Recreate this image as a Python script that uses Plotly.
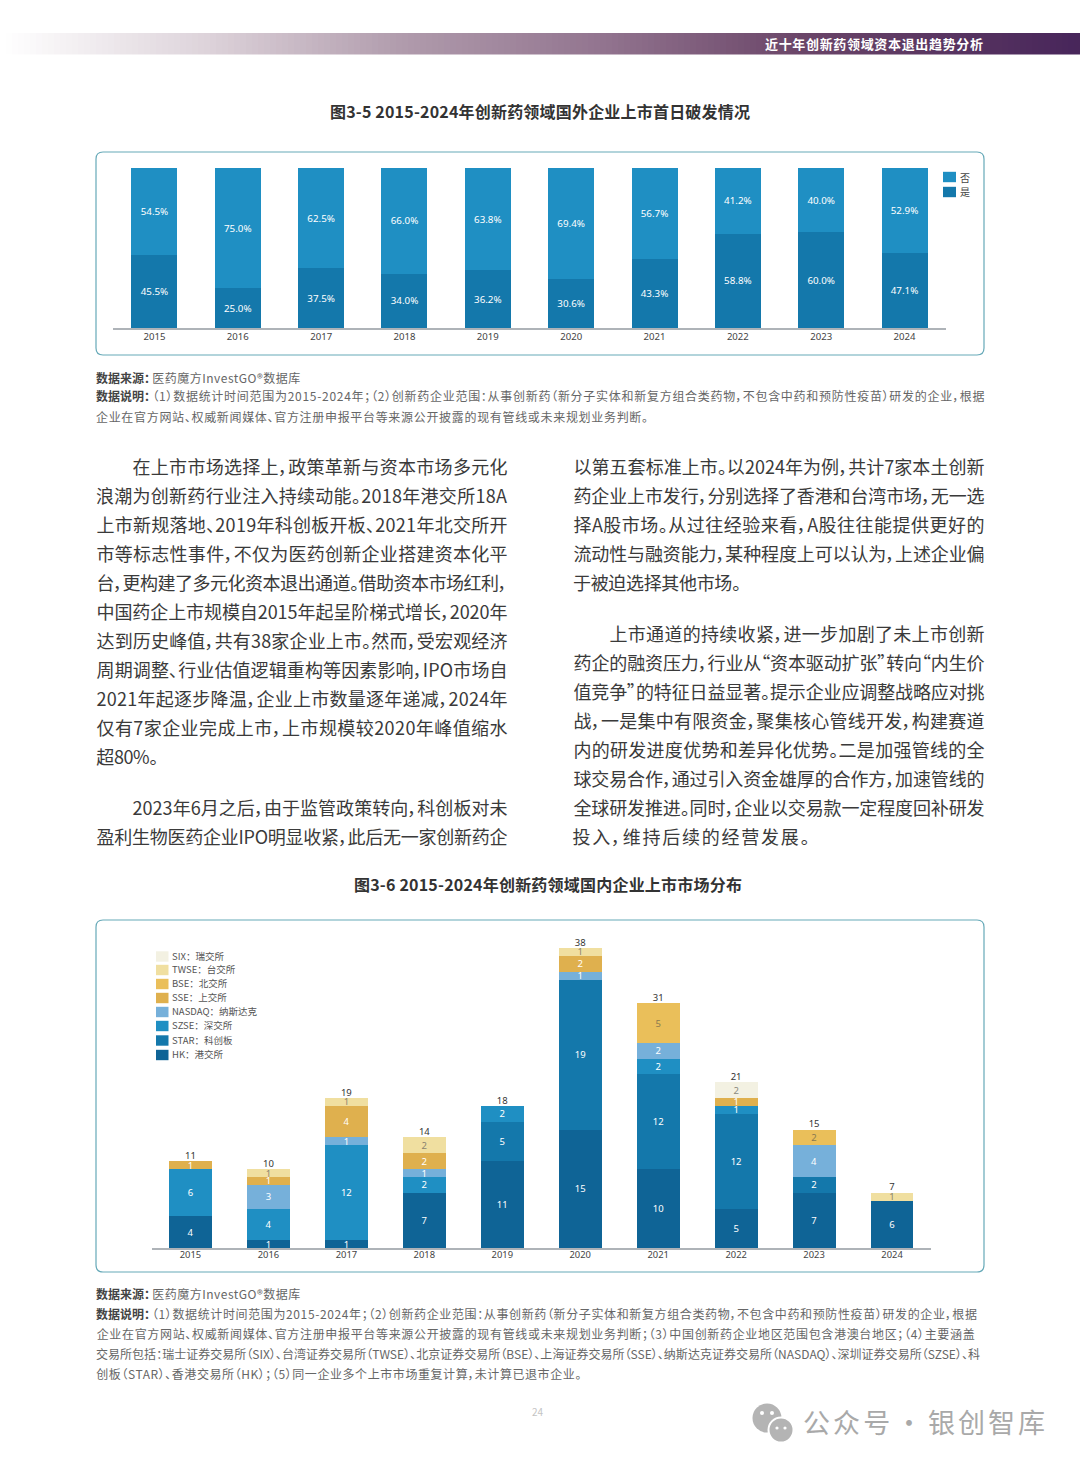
import json
import plotly.graph_objects as go

W, H = 1080, 1466
CJK = "Noto Sans CJK SC"
CHART_FONT = "Noto Sans, Noto Sans CJK SC"

# ---- chart 1 data
years = ["2015", "2016", "2017", "2018", "2019", "2020", "2021", "2022", "2023", "2024"]
share_yes = [45.5, 25.0, 37.5, 34.0, 36.2, 30.6, 43.3, 58.8, 60.0, 47.1]
share_no = [54.5, 75.0, 62.5, 66.0, 63.8, 69.4, 56.7, 41.2, 40.0, 52.9]

# ---- chart 2 data
hk = [4, 1, 1, 7, 11, 15, 10, 5, 7, 6]
star = [None, None, None, None, 5, 19, 12, 12, 2, None]
szse = [6, 4, 12, 2, 2, None, 2, 1, None, None]
nasdaq = [None, 3, 1, 1, None, 1, 2, None, 4, None]
sse = [1, 1, 4, 2, None, 2, None, 1, None, None]
bse = [None, None, None, None, None, None, 5, None, 2, None]
twse = [None, 1, 1, 2, None, 1, None, None, None, 1]
six = [None, None, None, None, None, None, None, 2, None, None]
totals = [11, 10, 19, 14, 18, 38, 31, 21, 15, 7]

market_series = [
    ("HK：港交所", hk, "#0f6496", "#ffffff"),
    ("STAR：科创板", star, "#1478ab", "#ffffff"),
    ("SZSE：深交所", szse, "#1f8fc3", "#ffffff"),
    ("NASDAQ：纳斯达克", nasdaq, "#76b0da", "#ffffff"),
    ("SSE：上交所", sse, "#dfb04e", "#ffffff"),
    ("BSE：北交所", bse, "#eabf5a", "#8a7a50"),
    ("TWSE：台交所", twse, "#f0dfa0", "#8a8470"),
    ("SIX：瑞交所", six, "#f3f1e2", "#8a8a80"),
]

header_text = "近十年创新药领域资本退出趋势分析"
title_1 = "图3-5 2015-2024年创新药领域国外企业上市首日破发情况"
title_2 = "图3-6 2015-2024年创新药领域国内企业上市市场分布"

# (text, left, right, centre y)
body_lines = [
    ("在上市市场选择上，政策革新与资本市场多元化", 132, 507, 467),
    ("浪潮为创新药行业注入持续动能。2018年港交所18A", 96, 507, 496),
    ("上市新规落地、2019年科创板开板、2021年北交所开", 96, 507, 525),
    ("市等标志性事件，不仅为医药创新企业搭建资本化平", 96, 507, 554),
    ("台，更构建了多元化资本退出通道。借助资本市场红利，", 96, 507, 583),
    ("中国药企上市规模自2015年起呈阶梯式增长，2020年", 96, 507, 612),
    ("达到历史峰值，共有38家企业上市。然而，受宏观经济", 96, 507, 641),
    ("周期调整、行业估值逻辑重构等因素影响，IPO市场自", 96, 507, 670),
    ("2021年起逐步降温，企业上市数量逐年递减，2024年", 96, 507, 699),
    ("仅有7家企业完成上市，上市规模较2020年峰值缩水", 96, 507, 728),
    ("超80%。", 96, 158, 757),
    ("2023年6月之后，由于监管政策转向，科创板对未", 132, 507, 808),
    ("盈利生物医药企业IPO明显收紧，此后无一家创新药企", 96, 507, 837),
    ("以第五套标准上市。以2024年为例，共计7家本土创新", 573, 984, 467),
    ("药企业上市发行，分别选择了香港和台湾市场，无一选", 573, 984, 496),
    ("择A股市场。从过往经验来看，A股往往能提供更好的", 573, 984, 525),
    ("流动性与融资能力，某种程度上可以认为，上述企业偏", 573, 984, 554),
    ("于被迫选择其他市场。", 573, 741, 583),
    ("上市通道的持续收紧，进一步加剧了未上市创新", 609, 984, 634),
    ("药企的融资压力，行业从“资本驱动扩张”转向“内生价", 573, 984, 663),
    ("值竞争”的特征日益显著。提示企业应调整战略应对挑", 573, 984, 692),
    ("战，一是集中有限资金，聚集核心管线开发，构建赛道", 573, 984, 721),
    ("内的研发进度优势和差异化优势。二是加强管线的全", 573, 984, 750),
    ("球交易合作，通过引入资金雄厚的合作方，加速管线的", 573, 984, 779),
    ("全球研发推进。同时，企业以交易款一定程度回补研发", 573, 984, 808),
    ("投入，维持后续的经营发展。", 573, 810, 837),
]

note_bold = [
    ("数据来源：", 96, 150, 378),
    ("数据说明：", 96, 150, 397),
    ("数据来源：", 96, 150, 1294),
    ("数据说明：", 96, 150, 1314),
]
note_lines = [
    ("医药魔方InvestGO®数据库", 152, 300, 378),
    ("（1）数据统计时间范围为2015-2024年；（2）创新药企业范围：从事创新药（新分子实体和新复方组合类药物，不包含中药和预防性疫苗）研发的企业，根据", 152, 984, 397),
    ("企业在官方网站、权威新闻媒体、官方注册申报平台等来源公开披露的现有管线或未来规划业务判断。", 96, 648, 417),
    ("医药魔方InvestGO®数据库", 152, 300, 1294),
    ("（1）数据统计时间范围为2015-2024年；（2）创新药企业范围：从事创新药（新分子实体和新复方组合类药物，不包含中药和预防性疫苗）研发的企业，根据", 152, 977, 1314),
    ("企业在官方网站、权威新闻媒体、官方注册申报平台等来源公开披露的现有管线或未来规划业务判断；（3）中国创新药企业地区范围包含港澳台地区；（4）主要涵盖", 96, 974, 1334),
    ("交易所包括：瑞士证券交易所（SIX）、台湾证券交易所（TWSE）、北京证券交易所（BSE）、上海证券交易所（SSE）、纳斯达克证券交易所（NASDAQ）、深圳证券交易所（SZSE）、科", 96, 980, 1354),
    ("创板（STAR）、香港交易所（HK）；（5）同一企业多个上市市场重复计算，未计算已退市企业。", 96, 581, 1374),
]


def px(x):
    return x / W


def py(y):
    return 1 - y / H


def rect(x0, y0, x1, y1, color):
    return dict(type="rect", xref="paper", yref="paper", x0=px(x0), x1=px(x1), y0=py(y1), y1=py(y0),
                fillcolor=color, line=dict(width=0), layer="below")


def circle(cx, cy, r, color, line=None):
    return dict(type="circle", xref="paper", yref="paper", x0=px(cx - r), x1=px(cx + r), y0=py(cy + r), y1=py(cy - r),
                fillcolor=color, line=dict(width=2, color=line) if line else dict(width=0), layer="above")


def panel(x0, y0, x1, y1, r=7):
    pts = (f"M{px(x0 + r)},{py(y0)} L{px(x1 - r)},{py(y0)} Q{px(x1)},{py(y0)} {px(x1)},{py(y0 + r)} "
           f"L{px(x1)},{py(y1 - r)} Q{px(x1)},{py(y1)} {px(x1 - r)},{py(y1)} "
           f"L{px(x0 + r)},{py(y1)} Q{px(x0)},{py(y1)} {px(x0)},{py(y1 - r)} "
           f"L{px(x0)},{py(y0 + r)} Q{px(x0)},{py(y0)} {px(x0 + r)},{py(y0)} Z")
    return dict(type="path", xref="paper", yref="paper", path=pts, fillcolor="#ffffff",
                line=dict(color="#66a9b8", width=1.2), layer="below")


fig = go.Figure()

# chart 1 bars
for name, vals, color in (("是", share_yes, "#1478ab"), ("否", share_no, "#1f8fc3")):
    fig.add_trace(go.Bar(x=years, y=vals, name=name, marker=dict(color=color, line=dict(width=0)),
                         text=[f"{v:.1f}%" for v in vals], textposition="inside", insidetextanchor="middle",
                         textangle=0, constraintext="none",
                         textfont=dict(family=CHART_FONT, size=9.8, color="#ffffff"),
                         xaxis="x", yaxis="y", showlegend=False))

# chart 2 bars
for name, vals, color, tcolor in market_series:
    fig.add_trace(go.Bar(x=years, y=vals, name=name, marker=dict(color=color, line=dict(width=0)),
                         text=[("" if v is None else str(v)) for v in vals], textposition="inside",
                         insidetextanchor="middle", textangle=0, constraintext="none",
                         textfont=dict(family=CHART_FONT, size=9.5, color=tcolor),
                         xaxis="x2", yaxis="y2", showlegend=False))
fig.add_trace(go.Scatter(x=years, y=totals, mode="text", text=[str(t) for t in totals], textposition="top center",
                         textfont=dict(family=CHART_FONT, size=9.5, color="#333333"), cliponaxis=False,
                         xaxis="x2", yaxis="y2", showlegend=False, name="合计"))

shapes = []
annotations = []
fits = {}


def add_text(text, x, y, size, color, bold=False, anchor="left", fit=None, family=CJK):
    annotations.append(dict(text=text, xref="paper", yref="paper", x=px(x), y=py(y - 1), xanchor=anchor, yanchor="middle",
                            showarrow=False, borderpad=0, borderwidth=0,
                            font=dict(family=family, size=size, color=color, weight=700 if bold else 400)))
    if fit is not None:
        fits[len(annotations) - 1] = fit


def add_fit(line, size, color, bold=False):
    text, left, right, y = line
    add_text(text, (left + right) / 2, y, size, color, bold, anchor="center", fit=right - left)


# header gradient
stops = [(0, (255, 255, 255)), (200, (222, 212, 219)), (400, (176, 155, 172)), (600, (146, 116, 143)),
         (800, (106, 69, 104)), (1080, (71, 37, 90))]
for x in range(0, W, 6):
    for (a, ca), (b, cb) in zip(stops, stops[1:]):
        if a <= x < b:
            t = (x - a) / (b - a)
            c = tuple(round(p + (q - p) * t) for p, q in zip(ca, cb))
            shapes.append(rect(x, 33, x + 6, 54.5, "rgb(%d,%d,%d)" % c))
            break
add_fit((header_text, 765, 983, 44), 13, "#ffffff", True)

# titles
add_fit((title_1, 330, 750, 112), 16, "#333333", True)
add_fit((title_2, 354, 742, 885), 16, "#333333", True)

# panels
shapes.append(panel(96, 152, 984, 355))
shapes.append(panel(96, 920, 984, 1272))

# legends
for name, y, color in (("否", 177, "#1f8fc3"), ("是", 192, "#1478ab")):
    shapes.append(rect(943, y - 5.2, 956, y + 5.2, color))
    add_text(name, 960, y + 1, 10, "#444444")
legend_ys = [1055, 1040.5, 1026, 1012, 998, 984, 970, 956.5]
for (name, _, color, _), y in zip(market_series, legend_ys):
    shapes.append(rect(156, y - 5.2, 168.5, y + 5.2, color))
    add_text(name, 172, y, 9.5, "#555555")

# body and notes
for line in body_lines:
    add_fit(line, 18, "#3a3a3a")
for line in note_bold:
    add_fit(line, 12, "#444444", True)
for line in note_lines:
    add_fit(line, 12, "#666666")

# footer
add_text("24", 538, 1412, 10, "#c4c4c4", anchor="center")
add_fit(("公众号 · 银创智库", 803, 1045, 1422), 27, "#a9a9a9")
shapes += [
    circle(767, 1418, 14.5, "#b4b4b4"),
    circle(781, 1430, 12.5, "#b4b4b4", "#ffffff"),
    circle(762, 1413, 2, "#ffffff"), circle(772, 1413, 2, "#ffffff"),
    circle(777, 1428, 1.6, "#ffffff"), circle(785, 1428, 1.6, "#ffffff"),
]

axis_line = "#aeb3b8"
fig.update_layout(
    width=W, height=H, autosize=False, margin=dict(l=0, r=0, t=0, b=0, pad=0),
    paper_bgcolor="#ffffff", plot_bgcolor="rgba(0,0,0,0)", showlegend=False,
    barmode="stack", bargap=0.448, shapes=shapes, annotations=annotations,
    font=dict(family=CHART_FONT),
    xaxis=dict(domain=[px(112.8), px(946.2)], anchor="y", type="category", showgrid=False, ticks="", ticklen=0,
               showline=True, linecolor=axis_line, linewidth=1.5, fixedrange=True, ticklabelstandoff=-1,
               tickfont=dict(family=CHART_FONT, size=9.6, color="#444444")),
    yaxis=dict(domain=[py(328), py(168)], anchor="x", range=[0, 100], visible=False, fixedrange=True),
    xaxis2=dict(domain=[px(151.5), px(931)], anchor="y2", type="category", showgrid=False, ticks="", ticklen=0,
                showline=True, linecolor=axis_line, linewidth=1.5, fixedrange=True, ticklabelstandoff=-3,
                tickfont=dict(family=CHART_FONT, size=9.4, color="#444444")),
    yaxis2=dict(domain=[py(1248), py(948)], anchor="x2", range=[0, 38], visible=False, fixedrange=True),
)
for tr in fig.data[2:10]:
    tr.width = 0.55

post = """
document.documentElement.style.margin='0'; document.body.style.margin='0';
var fits = %s;
document.querySelectorAll('.annotation').forEach(function(g){
  var i = g.getAttribute('data-index');
  var w = fits[i];
  if (w === undefined) return;
  var t = g.querySelector('text.annotation-text');
  if (!t) return;
  t.style.fontFeatureSettings = '"palt"';
  t.setAttribute('textLength', w);
  t.setAttribute('lengthAdjust', 'spacing');
});
""" % json.dumps(fits)

fig.write_html("out.html", post_script=post, config=dict(displayModeBar=False))
